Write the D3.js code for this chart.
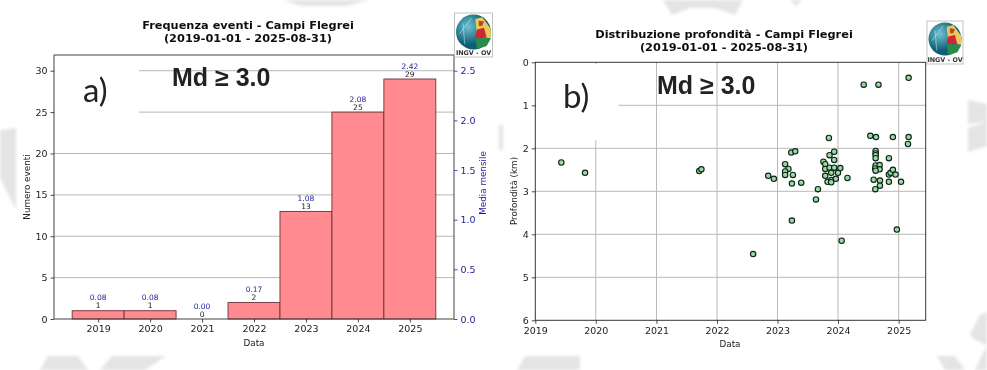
<!DOCTYPE html>
<html>
<head>
<meta charset="utf-8">
<script src="https://cdn.jsdelivr.net/npm/d3@7"></script>
<style>
html, body { margin: 0; padding: 0; background: white; overflow: hidden; }
text { font-family: "DejaVu Sans", sans-serif; }
</style>
</head>
<body>
<svg id="chart"></svg>
<script>
const width = 987;
const height = 370;

// panel a
const years = [2019, 2020, 2021, 2022, 2023, 2024, 2025];
const counts = [1, 1, 0, 2, 13, 25, 29];
const means = [0.08, 0.08, 0.00, 0.17, 1.08, 2.08, 2.42];
const countTicks = [0, 5, 10, 15, 20, 25, 30];
const meanTicks = [0, 0.5, 1, 1.5, 2, 2.5];

// panel b
const eventDates = [
	"2019-06-07", "2019-10-28", "2021-09-16", "2021-09-29", "2022-08-07", "2022-11-06", "2022-12-10",
	"2023-02-16", "2023-03-08", "2023-02-16", "2023-02-16", "2023-04-04", "2023-03-25", "2023-04-18",
	"2023-03-29", "2023-05-24", "2023-03-29", "2023-09-02", "2023-08-21", "2023-10-05", "2023-10-16",
	"2023-10-16", "2023-10-16", "2023-10-30", "2023-11-07", "2023-11-11", "2023-11-11", "2023-11-21",
	"2023-11-21", "2023-11-21", "2023-12-09", "2023-12-09", "2023-12-09", "2023-12-19", "2024-01-01",
	"2024-01-15", "2024-01-23", "2024-02-27", "2024-06-04", "2024-07-14", "2024-08-17", "2024-09-01",
	"2024-08-15", "2024-08-15", "2024-08-15", "2024-08-15", "2024-08-15", "2024-09-08", "2024-08-12",
	"2024-09-08", "2024-08-15", "2024-08-03", "2024-08-13", "2024-09-10", "2024-09-10", "2024-11-03",
	"2024-11-03", "2024-11-03", "2024-11-13", "2024-11-27", "2024-11-27", "2024-12-13", "2024-12-21",
	"2025-01-15", "2025-03-02", "2025-02-26", "2025-03-02"
];
const eventDepths = [
	2.33, 2.57, 2.53, 2.49, 4.46, 2.64, 2.71,
	2.37, 2.48, 2.54, 2.62, 2.62, 2.10, 2.07,
	2.82, 2.80, 3.68, 2.95, 3.19, 2.31, 2.37,
	2.48, 2.64, 2.78, 1.76, 2.16, 2.45, 2.57,
	2.74, 2.79, 2.08, 2.27, 2.45, 2.71, 2.57,
	2.46, 4.15, 2.69, 0.52, 1.71, 1.74, 0.52,
	2.06, 2.12, 2.16, 2.23, 2.40, 2.39, 2.47,
	2.49, 2.52, 2.73, 2.95, 2.75, 2.87, 2.23,
	2.61, 2.78, 2.57, 1.74, 2.50, 2.61, 3.89,
	2.78, 1.74, 1.90, 0.36
];
const depthTicks = [0, 1, 2, 3, 4, 5, 6];
const dateTicks = ["2019", "2020", "2021", "2022", "2023", "2024", "2025"];

const svg = d3.select("#chart").attr("width", width).attr("height", height);
const parseDay = d3.timeParse("%Y-%m-%d");
const parseYear = d3.timeParse("%Y");

const defs = svg.append("defs");
defs.append("filter").attr("id", "soft")
	.attr("x", "-5%").attr("y", "-5%").attr("width", "110%").attr("height", "110%")
	.append("feGaussianBlur").attr("stdDeviation", 0.35);
defs.append("filter").attr("id", "softer")
	.attr("x", "-20%").attr("y", "-20%").attr("width", "140%").attr("height", "140%")
	.append("feGaussianBlur").attr("stdDeviation", 1.5);
const globeGrad = defs.append("radialGradient").attr("id", "globe").attr("cx", "35%").attr("cy", "35%");
globeGrad.append("stop").attr("offset", "0%").attr("stop-color", "#6fc3cf");
globeGrad.append("stop").attr("offset", "100%").attr("stop-color", "#0f5f78");

// watermark scraps showing round the two plots
const scraps = [
	"M283,0 L370,0 L345,6 L300,6 Z",
	"M663,0 L743,0 L735,15 L715,8 L690,8 L672,15 Z",
	"M790,0 L802,0 L796,6 Z",
	"M0,130 L16,128 L16,210 L0,178 Z",
	"M968,100 L987,104 L987,122 L968,124 Z M968,128 L987,122 L987,146 L968,152 Z",
	"M970,335 L980,315 L987,312 L987,345 L975,340 Z",
	"M499,125 L503,125 L503,150 L499,150 Z",
	"M40,370 L48,356 L78,356 L88,370 Z M100,370 L112,356 L166,356 L145,370 Z",
	"M517,370 L525,356 L580,356 L580,370 Z",
	"M937,356 L955,356 L965,370 L945,370 Z M975,370 L987,345 L987,370 Z"
];
svg.append("g").attr("filter", "url(#softer)")
	.selectAll("path").data(scraps).enter()
	.append("path").attr("d", d => d).attr("fill", "#e4e4e4");

const root = svg.append("g").attr("filter", "url(#soft)");

function style_axis(g, color) {
	g.selectAll("text").attr("font-size", 9.5).attr("fill", color);
	g.selectAll("line").attr("stroke", color).attr("stroke-width", 0.8);
	g.select(".domain").remove();
}

function draw_logo(x, y, w, h) {
	const g = root.append("g").attr("transform", "translate(" + x + "," + y + ")");
	const r = w / 2 - 1.5;
	const cx = w / 2;
	const cy = r + 1.5;
	g.append("rect").attr("width", w).attr("height", h)
		.attr("fill", "white").attr("stroke", "#b5b5b5").attr("stroke-width", 0.8);
	g.append("circle").attr("cx", cx).attr("cy", cy).attr("r", r).attr("fill", "url(#globe)");
	const wedge = function (d, col) {
		g.append("path").attr("fill", col)
			.attr("d", "M" + d.map(p => [cx + p[0] * r, cy + p[1] * r].join(",")).join(" L") + " Z");
	};
	wedge([[0.1, -0.75], [0.5, -0.85], [0.98, -0.2], [1, 0.35], [0.5, 0.3], [0.2, 0.1]], "#e8c95a");
	wedge([[0.3, -0.65], [0.6, -0.6], [0.5, -0.35], [0.3, -0.35]], "#b8443a");
	wedge([[0.2, -0.15], [0.6, -0.25], [0.75, 0.32], [0.1, 0.3]], "#cf2630");
	wedge([[0.1, 0.32], [1, 0.35], [0.75, 0.8], [0.2, 0.98]], "#2a8a4a");
	g.append("path").attr("fill", "none").attr("stroke", "#d8eef2").attr("stroke-width", 0.5)
		.attr("d", "M" + (cx - r * 0.8) + "," + (cy + r * 0.1) + " L" + (cx - r * 0.1) + "," + (cy - r * 0.8)
			+ " M" + (cx - r * 0.5) + "," + (cy + r * 0.7) + " L" + (cx - r * 0.6) + "," + (cy - r * 0.5));
	g.append("text").attr("x", w / 2).attr("y", h - 1.8).attr("text-anchor", "middle")
		.attr("font-size", 6.4).attr("font-weight", "bold").attr("fill", "#333").text("INGV - OV");
}

function draw_title(cx, y1, line1) {
	root.append("text").attr("x", cx).attr("y", y1).attr("text-anchor", "middle")
		.attr("font-size", 11.35).attr("font-weight", "bold").attr("fill", "#111").text(line1);
	root.append("text").attr("x", cx).attr("y", y1 + 12.7).attr("text-anchor", "middle")
		.attr("font-size", 11.35).attr("font-weight", "bold").attr("fill", "#111").text("(2019-01-01 - 2025-08-31)");
}

function draw_tags(letter, lx, ly, mx, my) {
	root.append("text").attr("x", lx).attr("y", ly)
		.style("font-family", "Lato").attr("font-size", 33).attr("fill", "#222").text(letter);
	root.append("text").attr("x", mx).attr("y", my)
		.style("font-family", "Liberation Sans").attr("font-size", 25).attr("font-weight", "bold")
		.attr("fill", "#222").text("Md \u2265 3.0");
}

function axis_label(x, y, label, color, rotate) {
	const t = root.append("text").attr("text-anchor", "middle").attr("font-size", 8.8)
		.attr("fill", color).text(label);
	if (rotate) t.attr("transform", "translate(" + x + "," + y + ") rotate(-90)");
	else t.attr("x", x).attr("y", y);
}

// panel a: yearly counts with the monthly mean on the right axis
function draw_bars() {
	const left = 54, right = 454, top = 55, bottom = 319;
	const xs = d3.scaleLinear().domain([2018.15, 2025.85]).range([left, right]);
	const ys = d3.scaleLinear().domain([0, 31.9]).range([bottom, top]);
	const ym = d3.scaleLinear().domain([0, 31.9 / 12]).range([bottom, top]);
	const blue = "#24249a";

	root.append("g").selectAll("line").data(countTicks.slice(1)).enter()
		.append("line")
		.attr("x1", left).attr("x2", right)
		.attr("y1", d => ys(d)).attr("y2", d => ys(d))
		.attr("stroke", "#b8b8b8").attr("stroke-width", 1);

	// pasted white box behind the panel letter
	root.append("rect").attr("x", left + 1).attr("y", top + 2).attr("width", 84).attr("height", 68).attr("fill", "white");

	root.append("g").selectAll("rect").data(years).enter()
		.append("rect")
		.attr("x", d => xs(d - 0.5))
		.attr("y", (d, i) => ys(counts[i]))
		.attr("width", d => xs(d + 0.5) - xs(d - 0.5))
		.attr("height", (d, i) => bottom - ys(counts[i]))
		.attr("fill", "#ff8a90")
		.attr("stroke", "#6e3236")
		.attr("stroke-width", 0.9);

	root.append("g").selectAll("text").data(years).enter()
		.append("text")
		.attr("x", d => xs(d))
		.attr("y", (d, i) => ys(counts[i]) - 2.5)
		.attr("text-anchor", "middle").attr("font-size", 7.5).attr("fill", "#222")
		.text((d, i) => counts[i]);
	root.append("g").selectAll("text").data(years).enter()
		.append("text")
		.attr("x", d => xs(d))
		.attr("y", (d, i) => ys(counts[i]) - 10.5)
		.attr("text-anchor", "middle").attr("font-size", 7.5).attr("fill", blue)
		.text((d, i) => means[i].toFixed(2));

	root.append("rect")
		.attr("x", left).attr("y", top).attr("width", right - left).attr("height", bottom - top)
		.attr("fill", "none").attr("stroke", "#444").attr("stroke-width", 1);

	root.append("g").attr("transform", "translate(" + left + ",0)")
		.call(d3.axisLeft(ys).tickValues(countTicks).tickSize(3.5).tickPadding(3))
		.call(style_axis, "#222");
	root.append("g").attr("transform", "translate(" + right + ",0)")
		.call(d3.axisRight(ym).tickValues(meanTicks).tickSize(3.5).tickPadding(3).tickFormat(d3.format(".1f")))
		.call(style_axis, blue);
	root.append("g").attr("transform", "translate(0," + bottom + ")")
		.call(d3.axisBottom(xs).tickValues(years).tickSize(3.5).tickPadding(3).tickFormat(d3.format("d")))
		.call(style_axis, "#222");

	axis_label(254, 346, "Data", "#222", false);
	axis_label(30, 187, "Numero eventi", "#222", true);
	axis_label(486, 183, "Media mensile", blue, true);
	draw_title(248, 29, "Frequenza eventi - Campi Flegrei");
	draw_tags("a)", 83, 102, 172, 86);
}

// panel b: depth against date, depth axis points down
function draw_scatter() {
	const left = 535.3, right = 925.7, top = 62.3, bottom = 320.3;
	const xs = d3.scaleTime().domain([parseDay("2019-01-01"), parseDay("2025-06-13")]).range([left, right]);
	const ys = d3.scaleLinear().domain([0, 6]).range([top, bottom]);
	const dates = dateTicks.map(d => parseYear(d));

	root.append("g").selectAll("line").data(depthTicks.slice(1, -1)).enter()
		.append("line")
		.attr("x1", left).attr("x2", right)
		.attr("y1", d => ys(d)).attr("y2", d => ys(d))
		.attr("stroke", "#b0b0b0").attr("stroke-width", 0.9);
	root.append("g").selectAll("line").data(dates.slice(1)).enter()
		.append("line")
		.attr("x1", d => xs(d)).attr("x2", d => xs(d))
		.attr("y1", top).attr("y2", bottom)
		.attr("stroke", "#b8b8b8").attr("stroke-width", 1);

	root.append("rect").attr("x", left + 1).attr("y", top + 2).attr("width", 82).attr("height", 76).attr("fill", "white");

	root.append("g").selectAll("circle").data(eventDates).enter()
		.append("circle")
		.attr("cx", d => xs(parseDay(d)))
		.attr("cy", (d, i) => ys(eventDepths[i]))
		.attr("r", 2.7)
		.attr("fill", "#9ad9a4")
		.attr("stroke", "#0e2216")
		.attr("stroke-width", 1.1);

	root.append("rect")
		.attr("x", left).attr("y", top).attr("width", right - left).attr("height", bottom - top)
		.attr("fill", "none").attr("stroke", "#333").attr("stroke-width", 1);

	root.append("g").attr("transform", "translate(" + left + ",0)")
		.call(d3.axisLeft(ys).tickValues(depthTicks).tickSize(3.5).tickPadding(3).tickFormat(d3.format("d")))
		.call(style_axis, "#222");
	root.append("g").attr("transform", "translate(0," + bottom + ")")
		.call(d3.axisBottom(xs).tickValues(dates).tickSize(3.5).tickPadding(3).tickFormat(d3.timeFormat("%Y")))
		.call(style_axis, "#222");

	axis_label(730, 347, "Data", "#222", false);
	axis_label(517, 191, "Profondit\u00e0 (km)", "#222", true);
	draw_title(724, 38, "Distribuzione profondit\u00e0 - Campi Flegrei");
	draw_tags("b)", 563, 108, 657, 94);
}

draw_bars();
draw_scatter();
draw_logo(454.5, 13, 38, 44);
draw_logo(927, 21, 36, 43);
</script>
</body>
</html>
